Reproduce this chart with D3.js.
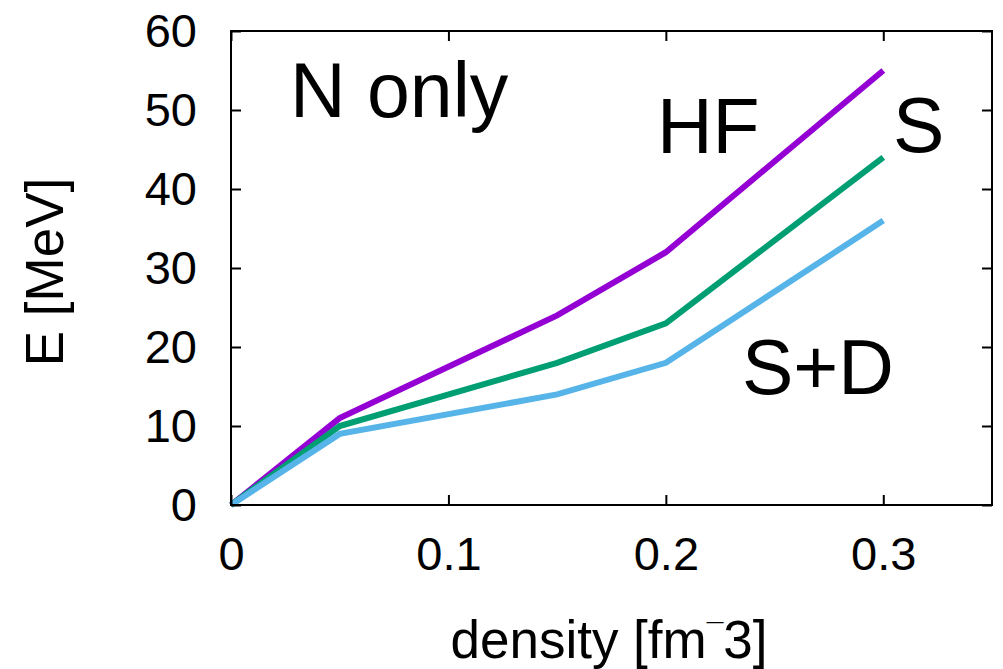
<!DOCTYPE html>
<html>
<head>
<meta charset="utf-8">
<script src="https://cdn.jsdelivr.net/npm/d3@7"></script>
<style>
  body { margin: 0; background: #fff; }
  svg text { font-family: "Liberation Sans", Arial, Helvetica, sans-serif; fill: #000; }
</style>
</head>
<body>
<svg id="chart" width="1003" height="669"></svg>
<script>
// densities [fm^-3]
const density = [0, 0.05, 0.15, 0.2, 0.3];
const hf = [0, 11, 24, 32, 55];
const sOnly = [0, 10, 18, 23, 44];
const sPlusD = [0, 9, 14, 18, 36];
const xTicks = [0, 0.1, 0.2, 0.3];
const yTicks = [0, 10, 20, 30, 40, 50, 60];

const series = [
  { name: 'HF', values: hf, color: '#9400d3' },
  { name: 'S', values: sOnly, color: '#009e73' },
  { name: 'S+D', values: sPlusD, color: '#56b4e9' }
];

const plotL = 231, plotR = 992, plotT = 31, plotB = 505;
const svg = d3.select('#chart');

const x = d3.scaleLinear().domain([0, 0.35]).range([plotL, plotR]);
const y = d3.scaleLinear().domain([0, 60]).range([plotB, plotT]);

// curves
const line = d3.line()
  .x((d, i) => x(density[i]))
  .y(d => y(d));

series.forEach(s => {
  svg.append('path')
    .datum(s.values)
    .attr('d', line)
    .attr('fill', 'none')
    .attr('stroke', s.color)
    .attr('stroke-width', 6)
    .attr('stroke-linejoin', 'miter');
});

// mirrored inward ticks, gnuplot style
function axis(gen, tx, ty) {
  const g = svg.append('g').attr('transform', `translate(${tx},${ty})`).call(gen);
  g.select('.domain').remove();
  g.selectAll('.tick line').attr('stroke', '#000').attr('stroke-width', 2);
  return g;
}

const xb = axis(d3.axisBottom(x).tickValues(xTicks).tickSize(-10).tickPadding(32)
  .tickFormat(d => d === 0 ? '0' : d3.format('.1f')(d)), 0, plotB);
xb.selectAll('text').attr('font-size', 47).attr('dy', '0.71em');
axis(d3.axisTop(x).tickValues(xTicks).tickSize(-10).tickFormat(''), 0, plotT);

const yl = axis(d3.axisLeft(y).tickValues(yTicks).tickSize(-10).tickPadding(34), plotL, 0);
yl.selectAll('text').attr('font-size', 47);
axis(d3.axisRight(y).tickValues(yTicks).tickSize(-10).tickFormat(''), plotR, 0);

svg.selectAll('.tick text').attr('fill', '#000').style('font-family', '"Liberation Sans", Arial, sans-serif');

// frame
svg.append('rect')
  .attr('x', plotL).attr('y', plotT)
  .attr('width', plotR - plotL).attr('height', plotB - plotT)
  .attr('fill', 'none').attr('stroke', '#000').attr('stroke-width', 2);

// axis titles
svg.append('text')
  .attr('transform', 'translate(63,272) rotate(-90)')
  .attr('text-anchor', 'middle')
  .attr('font-size', 53)
  .text('E [MeV]');

const xt = svg.append('text')
  .attr('x', 609).attr('y', 658)
  .attr('text-anchor', 'middle')
  .attr('font-size', 53);
xt.append('tspan').text('density [fm');
xt.append('tspan').attr('font-size', 30).attr('dy', -14).text('¯');
xt.append('tspan').attr('dy', 14).text('3]');

// in-plot labels
const labels = [
  { text: 'N only', x: 290, y: 117 },
  { text: 'HF', x: 657, y: 153 },
  { text: 'S', x: 893, y: 152 },
  { text: 'S+D', x: 742, y: 394 }
];
svg.selectAll('.lab').data(labels).enter().append('text')
  .attr('class', 'lab')
  .attr('x', d => d.x).attr('y', d => d.y)
  .attr('font-size', 77)
  .text(d => d.text);
</script>
</body>
</html>
